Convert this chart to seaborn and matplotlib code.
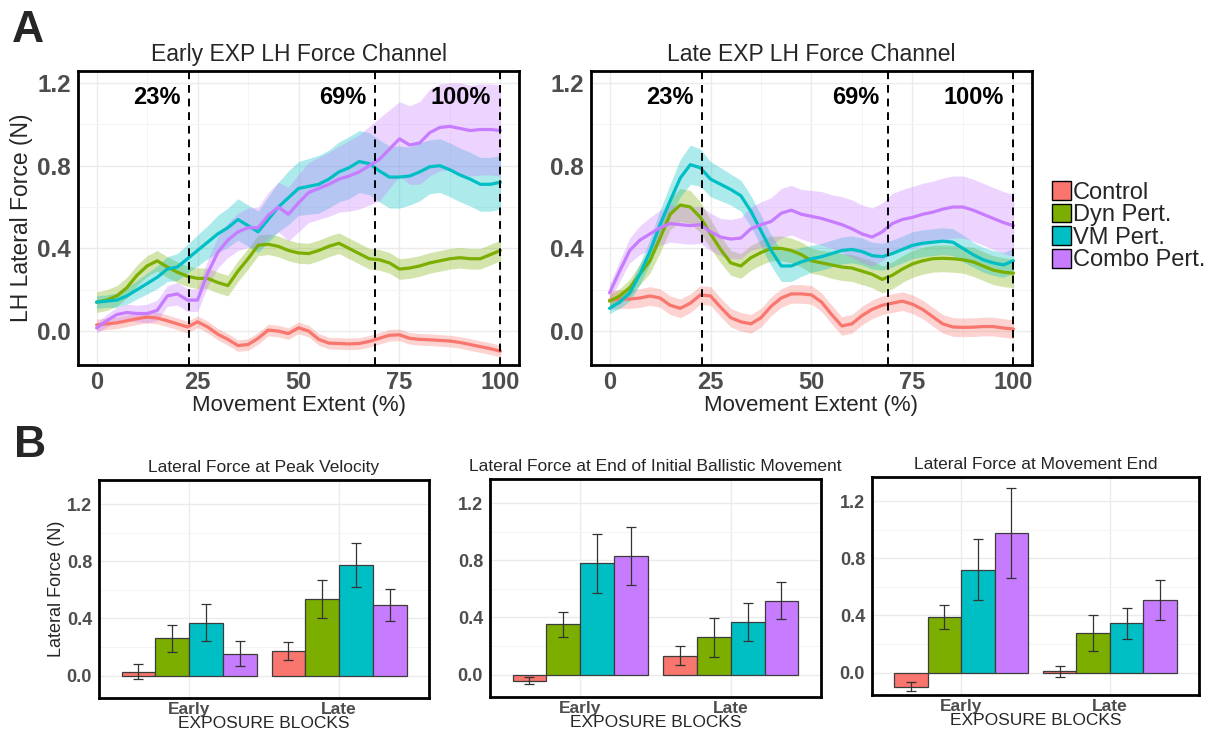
import matplotlib.pyplot as plt
import pandas as pd
import seaborn as sns
from matplotlib.patches import Patch
from matplotlib.ticker import MultipleLocator

GROUPS = ["Control", "Dyn Pert.", "VM Pert.", "Combo Pert."]
COLORS = ["#F8766D", "#7CAE00", "#00BFC4", "#C77CFF"]
MARKERS_PCT = [23, 69, 100]

# movement extent grid (%)
X_PCT = [0, 2.5, 5, 7.5, 10, 12.5, 15, 17.5, 20, 22.5,
         25, 27.5, 30, 32.5, 35, 37.5, 40, 42.5, 45, 47.5,
         50, 52.5, 55, 57.5, 60, 62.5, 65, 67.5, 70, 72.5,
         75, 77.5, 80, 82.5, 85, 87.5, 90, 92.5, 95, 97.5, 100]

# early exposure, mean lateral force (N)
EARLY_CONTROL = [0.03, 0.035, 0.04, 0.05, 0.06, 0.068, 0.063, 0.05, 0.035, 0.02,
                 0.045, 0.02, -0.015, -0.04, -0.07, -0.065, -0.035, 0.005, 0.0, -0.012,
                 0.016, 0.0, -0.04, -0.058, -0.06, -0.062, -0.06, -0.05, -0.035, -0.02,
                 -0.018, -0.035, -0.04, -0.042, -0.045, -0.048, -0.055, -0.065, -0.075, -0.085,
                 -0.097]
EARLY_DYN = [0.14, 0.15, 0.17, 0.21, 0.27, 0.315, 0.34, 0.31, 0.285, 0.265,
             0.255, 0.255, 0.235, 0.22, 0.29, 0.35, 0.415, 0.42, 0.41, 0.39,
             0.378, 0.375, 0.39, 0.41, 0.425, 0.40, 0.375, 0.35, 0.345, 0.33,
             0.30, 0.305, 0.315, 0.33, 0.34, 0.35, 0.355, 0.35, 0.35, 0.37,
             0.39]
EARLY_VM = [0.14, 0.145, 0.15, 0.17, 0.20, 0.23, 0.26, 0.30, 0.31, 0.35,
            0.39, 0.43, 0.47, 0.50, 0.54, 0.51, 0.48, 0.54, 0.60, 0.645,
            0.69, 0.70, 0.71, 0.735, 0.77, 0.79, 0.82, 0.81, 0.775, 0.745,
            0.745, 0.75, 0.77, 0.795, 0.80, 0.78, 0.755, 0.735, 0.71, 0.71,
            0.72]
EARLY_COMBO = [0.015, 0.05, 0.08, 0.09, 0.085, 0.085, 0.10, 0.17, 0.18, 0.15,
               0.15, 0.28, 0.38, 0.44, 0.48, 0.50, 0.50, 0.56, 0.60, 0.565,
               0.62, 0.67, 0.69, 0.71, 0.735, 0.75, 0.77, 0.80, 0.83, 0.88,
               0.93, 0.90, 0.91, 0.96, 0.985, 0.99, 0.98, 0.97, 0.975, 0.975,
               0.97]
# early exposure, ribbon half width (N)
EARLY_CONTROL_SE = 0.028
EARLY_DYN_SE = 0.05
EARLY_VM_SE = [0.03, 0.03, 0.035, 0.04, 0.045, 0.05, 0.055, 0.06, 0.065, 0.07,
               0.075, 0.08, 0.09, 0.095, 0.10, 0.10, 0.10, 0.11, 0.12, 0.13,
               0.13, 0.135, 0.14, 0.14, 0.145, 0.15, 0.15, 0.15, 0.15, 0.15,
               0.15, 0.14, 0.14, 0.13, 0.13, 0.13, 0.13, 0.13, 0.13, 0.13,
               0.13]
EARLY_COMBO_SE = [0.025, 0.03, 0.035, 0.04, 0.04, 0.045, 0.05, 0.05, 0.055, 0.055,
                  0.055, 0.065, 0.075, 0.085, 0.09, 0.095, 0.10, 0.11, 0.12, 0.13,
                  0.14, 0.145, 0.15, 0.155, 0.16, 0.17, 0.18, 0.19, 0.20, 0.19,
                  0.18, 0.19, 0.20, 0.21, 0.21, 0.21, 0.22, 0.22, 0.22, 0.22,
                  0.22]

# late exposure, mean lateral force (N)
LATE_CONTROL = [0.15, 0.155, 0.155, 0.16, 0.17, 0.16, 0.125, 0.11, 0.135, 0.175,
                0.17, 0.115, 0.065, 0.045, 0.035, 0.065, 0.12, 0.16, 0.18, 0.18,
                0.175, 0.14, 0.08, 0.025, 0.035, 0.075, 0.105, 0.125, 0.135, 0.145,
                0.13, 0.105, 0.07, 0.035, 0.02, 0.018, 0.019, 0.022, 0.022, 0.015,
                0.01]
LATE_DYN = [0.145, 0.17, 0.21, 0.275, 0.34, 0.45, 0.565, 0.61, 0.60, 0.55,
            0.47, 0.395, 0.33, 0.315, 0.355, 0.38, 0.40, 0.40, 0.39, 0.37,
            0.34, 0.33, 0.32, 0.31, 0.305, 0.29, 0.275, 0.25, 0.27, 0.30,
            0.325, 0.34, 0.35, 0.352, 0.35, 0.345, 0.335, 0.315, 0.295, 0.285,
            0.28]
LATE_VM = [0.11, 0.14, 0.185, 0.275, 0.385, 0.515, 0.63, 0.74, 0.805, 0.79,
           0.735, 0.71, 0.685, 0.655, 0.58, 0.485, 0.39, 0.315, 0.315, 0.335,
           0.35, 0.36, 0.375, 0.39, 0.395, 0.385, 0.365, 0.36, 0.375, 0.395,
           0.415, 0.425, 0.43, 0.435, 0.43, 0.40, 0.37, 0.345, 0.33, 0.32,
           0.34]
LATE_COMBO = [0.185, 0.29, 0.39, 0.44, 0.47, 0.50, 0.52, 0.515, 0.51, 0.515,
              0.48, 0.455, 0.445, 0.45, 0.495, 0.515, 0.53, 0.57, 0.585, 0.565,
              0.555, 0.545, 0.53, 0.515, 0.495, 0.47, 0.455, 0.48, 0.52, 0.54,
              0.55, 0.565, 0.575, 0.59, 0.60, 0.60, 0.585, 0.565, 0.545, 0.525,
              0.51]
# late exposure, ribbon half width (N)
LATE_CONTROL_SE = 0.045
LATE_DYN_SE = [0.03, 0.035, 0.04, 0.05, 0.06, 0.07, 0.075, 0.08, 0.08, 0.075,
               0.07, 0.065, 0.06, 0.06, 0.06, 0.06, 0.06, 0.06, 0.06, 0.06,
               0.06, 0.06, 0.065, 0.065, 0.065, 0.065, 0.065, 0.065, 0.065, 0.065,
               0.065, 0.065, 0.065, 0.065, 0.065, 0.065, 0.07, 0.07, 0.07, 0.07,
               0.07]
LATE_VM_SE = [0.025, 0.03, 0.04, 0.05, 0.06, 0.07, 0.08, 0.09, 0.095, 0.09,
              0.085, 0.08, 0.075, 0.075, 0.075, 0.075, 0.075, 0.075, 0.075, 0.07,
              0.065, 0.065, 0.065, 0.065, 0.065, 0.065, 0.065, 0.065, 0.065, 0.065,
              0.065, 0.065, 0.065, 0.065, 0.065, 0.065, 0.06, 0.06, 0.06, 0.06,
              0.06]
LATE_COMBO_SE = [0.04, 0.05, 0.06, 0.07, 0.08, 0.085, 0.09, 0.09, 0.09, 0.09,
                 0.09, 0.09, 0.095, 0.10, 0.105, 0.11, 0.115, 0.12, 0.12, 0.12,
                 0.125, 0.13, 0.13, 0.135, 0.14, 0.14, 0.14, 0.14, 0.145, 0.145,
                 0.15, 0.15, 0.15, 0.15, 0.15, 0.15, 0.15, 0.15, 0.15, 0.15,
                 0.15]

# bar panels: mean and SE per group (Control, Dyn, VM, Combo)
BLOCKS = ["Early", "Late"]
PEAKVEL_EARLY = [0.028, 0.26, 0.369, 0.152]
PEAKVEL_EARLY_SE = [0.053, 0.094, 0.13, 0.088]
PEAKVEL_LATE = [0.175, 0.537, 0.777, 0.493]
PEAKVEL_LATE_SE = [0.063, 0.132, 0.155, 0.11]
BALLISTIC_EARLY = [-0.042, 0.351, 0.779, 0.828]
BALLISTIC_EARLY_SE = [0.027, 0.087, 0.207, 0.204]
BALLISTIC_LATE = [0.133, 0.26, 0.367, 0.517]
BALLISTIC_LATE_SE = [0.067, 0.135, 0.132, 0.128]
MOVEEND_EARLY = [-0.099, 0.389, 0.721, 0.976]
MOVEEND_EARLY_SE = [0.032, 0.083, 0.213, 0.314]
MOVEEND_LATE = [0.009, 0.276, 0.344, 0.507]
MOVEEND_LATE_SE = [0.038, 0.127, 0.107, 0.138]

sns.set_style("white")
plt.rcParams["font.family"] = ["Liberation Sans", "DejaVu Sans"]
palette = dict(zip(GROUPS, COLORS))
TICK_GREY = "#4D4D4D"


def trace_frame(means, ses):
    rows = []
    for group, m, s in zip(GROUPS, means, ses):
        part = pd.DataFrame({"extent": X_PCT, "force": m})
        part["se"] = s
        part["group"] = group
        rows.append(part)
    return pd.concat(rows, ignore_index=True)


def bar_frame(early, early_se, late, late_se):
    rows = []
    for block, vals, ses in [("Early", early, early_se), ("Late", late, late_se)]:
        for group, v, s in zip(GROUPS, vals, ses):
            rows.append({"block": block, "group": group, "force": v, "se": s})
    return pd.DataFrame(rows)


def style_box(ax):
    for sp in ax.spines.values():
        sp.set_visible(True)
        sp.set_color("black")
        sp.set_linewidth(2.0)
    ax.set_axisbelow(True)
    ax.grid(which="major", color="#EBEBEB", linewidth=1.0)
    ax.grid(which="minor", color="#F4F4F4", linewidth=0.7)
    ax.tick_params(which="major", length=3, width=0.8, color="#333333")
    ax.tick_params(which="minor", length=0)


fig = plt.figure(figsize=(12.15, 7.38), dpi=100)

trace_panels = [
    ("Early EXP LH Force Channel",
     trace_frame([EARLY_CONTROL, EARLY_DYN, EARLY_VM, EARLY_COMBO],
                 [EARLY_CONTROL_SE, EARLY_DYN_SE, EARLY_VM_SE, EARLY_COMBO_SE]),
     [0.0642, 0.5054, 0.363, 0.3984]),
    ("Late EXP LH Force Channel",
     trace_frame([LATE_CONTROL, LATE_DYN, LATE_VM, LATE_COMBO],
                 [LATE_CONTROL_SE, LATE_DYN_SE, LATE_VM_SE, LATE_COMBO_SE]),
     [0.4864, 0.5054, 0.363, 0.3984]),
]

for i, (title, df, rect) in enumerate(trace_panels):
    ax = fig.add_axes(rect)
    for group in GROUPS:
        sub = df[df["group"] == group]
        ax.fill_between(sub["extent"], sub["force"] - sub["se"], sub["force"] + sub["se"],
                        color=palette[group], alpha=0.32, linewidth=0, zorder=1)
    sns.lineplot(data=df, x="extent", y="force", hue="group", hue_order=GROUPS,
                 palette=palette, linewidth=2.3, errorbar=None, legend=False,
                 ax=ax, zorder=2)
    for v in MARKERS_PCT:
        ax.axvline(v, color="black", linestyle=(0, (4, 3)), linewidth=1.4, zorder=3)
        ax.text(v - 2.3, 1.13, f"{v}%", ha="right", va="center", fontsize=17,
                fontweight="bold", color="black")
    ax.set_xlim(-4.6, 104.6)
    ax.set_ylim(-0.164, 1.258)
    ax.set_xticks([0, 25, 50, 75, 100])
    ax.set_yticks([0.0, 0.4, 0.8, 1.2])
    ax.set_yticklabels(["0.0", "0.4", "0.8", "1.2"])
    ax.xaxis.set_minor_locator(MultipleLocator(12.5))
    ax.yaxis.set_minor_locator(MultipleLocator(0.2))
    style_box(ax)
    ax.tick_params(axis="y", labelsize=17.5, labelcolor=TICK_GREY, pad=2)
    ax.tick_params(axis="x", labelsize=17, labelcolor=TICK_GREY, pad=1.5)
    for lab in ax.get_xticklabels() + ax.get_yticklabels():
        lab.set_fontweight("bold")
    ax.set_title(title, fontsize=16.5, pad=7)
    ax.set_xlabel("Movement Extent (%)", fontsize=16, labelpad=0.5)
    ax.set_ylabel("LH Lateral Force (N)" if i == 0 else "", fontsize=16.5, labelpad=3)

bar_panels = [
    ("Lateral Force at Peak Velocity",
     bar_frame(PEAKVEL_EARLY, PEAKVEL_EARLY_SE, PEAKVEL_LATE, PEAKVEL_LATE_SE),
     [0.0815, 0.0542, 0.2716, 0.2954]),
    ("Lateral Force at End of Initial Ballistic Movement",
     bar_frame(BALLISTIC_EARLY, BALLISTIC_EARLY_SE, BALLISTIC_LATE, BALLISTIC_LATE_SE),
     [0.4033, 0.0556, 0.2724, 0.2954]),
    ("Lateral Force at Movement End",
     bar_frame(MOVEEND_EARLY, MOVEEND_EARLY_SE, MOVEEND_LATE, MOVEEND_LATE_SE),
     [0.7177, 0.0583, 0.2691, 0.2954]),
]

for i, (title, bdf, rect) in enumerate(bar_panels):
    ax = fig.add_axes(rect)
    sns.barplot(data=bdf, x="block", y="force", hue="group", hue_order=GROUPS,
                order=BLOCKS, palette=palette, width=0.9, errorbar=None,
                saturation=1, edgecolor="#3C3C3C", linewidth=0.9, legend=False,
                ax=ax, zorder=2)
    for group, container in zip(GROUPS, ax.containers):
        sub = bdf[bdf["group"] == group].set_index("block").loc[BLOCKS]
        xs = [b.get_x() + b.get_width() / 2 for b in container]
        ax.errorbar(xs, sub["force"], yerr=sub["se"], fmt="none", ecolor="#333333",
                    elinewidth=0.9, capsize=3.5, capthick=0.9, zorder=3)
    ax.set_xlim(-0.6, 1.6)
    ax.set_ylim(-0.157, 1.37)
    ax.set_yticks([0.0, 0.4, 0.8, 1.2])
    ax.set_yticklabels(["0.0", "0.4", "0.8", "1.2"])
    ax.yaxis.set_minor_locator(MultipleLocator(0.2))
    style_box(ax)
    ax.tick_params(axis="y", labelsize=13, labelcolor=TICK_GREY, pad=2)
    ax.tick_params(axis="x", labelsize=12.5, labelcolor=TICK_GREY, pad=0.5, length=2.5)
    for lab in ax.get_xticklabels() + ax.get_yticklabels():
        lab.set_fontweight("bold")
    ax.set_title(title, fontsize=12.5, pad=6)
    ax.set_xlabel("EXPOSURE BLOCKS", fontsize=12.5, labelpad=-0.5)
    ax.set_ylabel("Lateral Force (N)" if i == 0 else "", fontsize=13, labelpad=1)

handles = [Patch(facecolor=c, edgecolor="black", linewidth=1.0, label=g)
           for g, c in zip(GROUPS, COLORS)]
fig.legend(handles=handles, loc="upper left", bbox_to_anchor=(1052 / 1215, 1 - 181 / 738),
           frameon=False, fontsize=17, handlelength=0.8, handleheight=0.85,
           handletextpad=0.08, labelspacing=0.0, borderpad=0, borderaxespad=0)

fig.text(12 / 1215, 1 - 10 / 738, "A", fontsize=32, fontweight="bold", va="top", ha="left")
fig.text(14 / 1215, 1 - 425 / 738, "B", fontsize=32, fontweight="bold", va="top", ha="left")

fig.savefig("out.png", dpi=100)
plt.close(fig)
